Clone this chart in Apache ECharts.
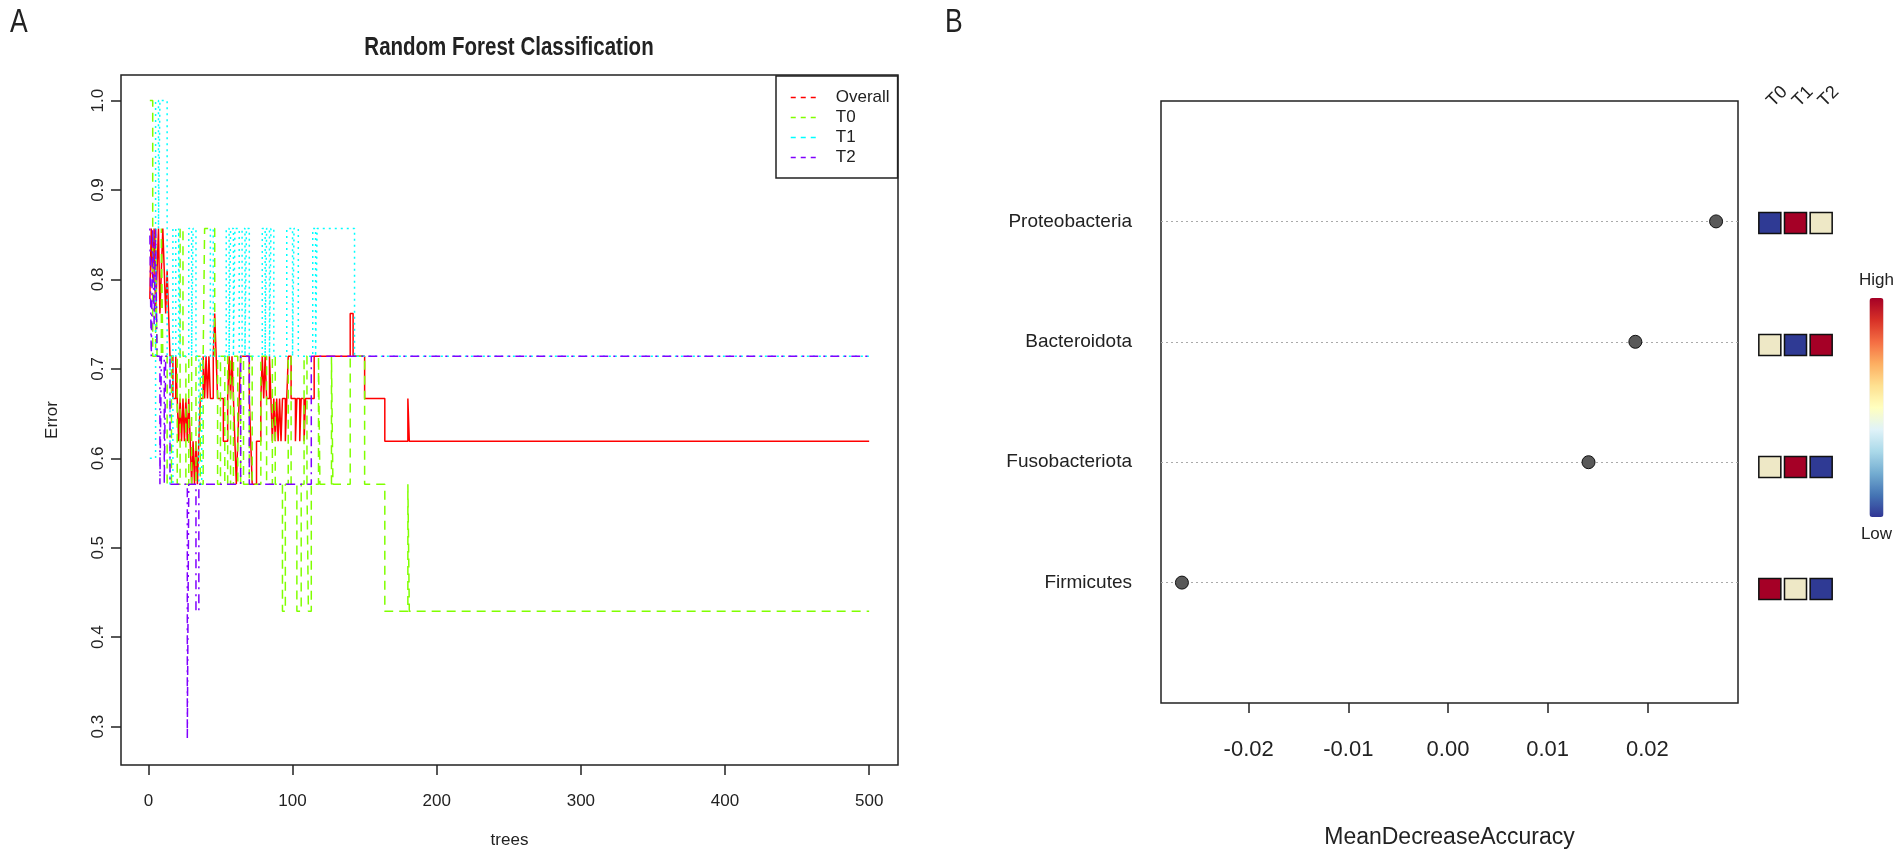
<!DOCTYPE html>
<html><head><meta charset="utf-8">
<script src="https://cdn.jsdelivr.net/npm/echarts@6/dist/echarts.min.js"></script>
<style>html,body{margin:0;padding:0;background:#fff}#c{width:1902px;height:854px}</style>
</head><body><div id="c"></div>
<script>
// ---------- Panel A data: OOB error vs number of trees (change points [tree, error]) ----------
const treeTicks = [0, 100, 200, 300, 400, 500];
const errorTicks = [0.3, 0.4, 0.5, 0.6, 0.7, 0.8, 0.9, 1.0];
const seriesNames = ['Overall', 'T0', 'T1', 'T2'];
const overall = [[1,0.778],[2,0.857],[3,0.8],[4,0.857],[5,0.762],[6,0.81],[7,0.857],[8,0.762],[9,0.81],[10,0.857],[11,0.81],[12,0.762],[13,0.81],[14,0.762],[15,0.714],[17,0.667],[19,0.714],[20,0.667],[21,0.619],[22,0.667],[23,0.619],[24,0.667],[25,0.619],[26,0.667],[27,0.619],[28,0.667],[29,0.619],[30,0.571],[31,0.619],[32,0.571],[33,0.619],[34,0.571],[35,0.619],[36,0.667],[38,0.714],[39,0.667],[40,0.714],[41,0.667],[42,0.714],[43,0.667],[45,0.714],[46,0.762],[47,0.714],[48,0.667],[52,0.619],[55,0.667],[56,0.714],[57,0.667],[58,0.714],[59,0.667],[60,0.619],[61,0.571],[62,0.619],[63,0.667],[64,0.714],[70,0.667],[71,0.619],[72,0.571],[75,0.619],[78,0.667],[79,0.714],[80,0.667],[81,0.714],[82,0.667],[84,0.714],[85,0.667],[86,0.619],[87,0.667],[88,0.619],[89,0.667],[90,0.619],[91,0.667],[92,0.619],[93,0.667],[95,0.619],[96,0.667],[97,0.714],[99,0.667],[102,0.619],[103,0.667],[105,0.619],[106,0.667],[108,0.619],[109,0.667],[115,0.714],[140,0.762],[142,0.714],[150,0.667],[164,0.619],[180,0.667],[181,0.619],[500,0.619]];
const t0 = [[1,1.0],[3,0.714],[5,0.857],[6,0.714],[9,0.857],[10,0.714],[13,0.571],[16,0.714],[20,0.571],[22,0.857],[24,0.714],[26,0.571],[28,0.714],[30,0.571],[33,0.714],[36,0.571],[38,0.714],[39,0.857],[46,0.714],[48,0.571],[50,0.714],[53,0.571],[55,0.714],[57,0.571],[59,0.714],[62,0.571],[64,0.714],[66,0.571],[70,0.714],[72,0.571],[78,0.714],[82,0.571],[86,0.714],[88,0.571],[93,0.429],[95,0.571],[97,0.714],[99,0.571],[103,0.429],[106,0.571],[108,0.714],[110,0.571],[111,0.429],[113,0.571],[118,0.714],[119,0.571],[127,0.714],[128,0.571],[140,0.714],[150,0.571],[164,0.429],[180,0.571],[181,0.429],[500,0.429]];
const t1 = [[1,0.6],[5,1.0],[7,0.857],[8,1.0],[13,0.714],[15,0.571],[17,0.857],[19,0.714],[21,0.857],[22,0.714],[28,0.857],[30,0.714],[31,0.857],[33,0.714],[35,0.571],[37,0.714],[43,0.857],[45,0.714],[54,0.857],[56,0.714],[57,0.857],[59,0.714],[60,0.857],[63,0.714],[65,0.857],[67,0.714],[68,0.857],[70,0.714],[79,0.857],[81,0.714],[82,0.857],[84,0.714],[85,0.857],[87,0.714],[96,0.857],[100,0.714],[101,0.857],[104,0.714],[114,0.857],[116,0.714],[117,0.857],[143,0.714],[500,0.714]];
const t2 = [[1,0.857],[2,0.714],[3,0.857],[4,0.75],[5,0.857],[6,0.714],[8,0.571],[9,0.714],[11,0.571],[12,0.714],[15,0.571],[27,0.286],[28,0.571],[33,0.429],[35,0.571],[64,0.714],[70,0.571],[113,0.714],[500,0.714]];

// ---------- Panel B data ----------
const taxa = ['Firmicutes', 'Fusobacteriota', 'Bacteroidota', 'Proteobacteria'];
const meanDecreaseAccuracy = [-0.0267, 0.0141, 0.0188, 0.0269];
const mdaTicks = [-0.02, -0.01, 0.00, 0.01, 0.02];
const groups = ['T0', 'T1', 'T2'];
// relative abundance level per taxon (rows follow taxa) and group: 1 = low, 2 = mid, 3 = high
const levelRows = [[3,2,1],[2,3,1],[2,1,3],[1,3,2]];

const SANS = "'Liberation Sans',Arial,sans-serif";
const INK = '#222';
const lineColors = ['#FF0000', '#80FF00', '#00FFFF', '#8000FF'];
const dashes = ['solid', [9, 6], [2, 4], [2, 5, 9, 5]];
const lineData = [overall, t0, t1, t2];

const chart = echarts.init(document.getElementById('c'), null, {renderer: 'canvas'});

const lineSeries = seriesNames.map((n, i) => ({
  name: n, type: 'line', xAxisIndex: 0, yAxisIndex: 0, step: 'end',
  symbol: 'none', data: lineData[i], z: 2 + i,
  lineStyle: {color: lineColors[i], width: 1.5, type: dashes[i]},
  itemStyle: {color: lineColors[i]}
}));

const option = {
  animation: false,
  backgroundColor: '#fff',
  graphic: [
    {type: 'text', left: 10, top: 6, scaleX: 0.78, style: {text: 'A', font: '34px ' + SANS, fill: INK}},
    {type: 'text', left: 945, top: 6, scaleX: 0.78, style: {text: 'B', font: '34px ' + SANS, fill: INK}},
    {type: 'text', x: 509, y: 48, scaleX: 0.82,
     style: {text: 'Random Forest Classification', font: 'bold 25px ' + SANS, fill: INK, align: 'center', verticalAlign: 'middle'}}
  ],
  legend: {
    left: 776, top: 76, orient: 'vertical', data: seriesNames, selectedMode: false,
    itemWidth: 30, itemHeight: 14, itemGap: 3,
    borderColor: INK, borderWidth: 1.5, borderRadius: 0, padding: [13, 8, 12, 14],
    textStyle: {fontFamily: SANS, fontSize: 17, color: INK, padding: [0, 0, 0, 10]},
    itemStyle: {opacity: 0},
    lineStyle: {type: [5, 5], width: 1.5}
  },
  grid: [
    {left: 121, top: 75, width: 777, height: 694, show: true, borderColor: INK, borderWidth: 1.5, backgroundColor: 'transparent'},
    {left: 1161, top: 101, width: 577, height: 610, show: true, borderColor: INK, borderWidth: 1.5, backgroundColor: 'transparent'},
    {left: 1757, top: 101, width: 77, height: 610, show: false}
  ],
  xAxis: [
    {type: 'value', gridIndex: 0, min: -19, max: 520,
     axisLine: {show: false, onZero: false}, splitLine: {show: false},
     axisTick: {show: true, customValues: treeTicks, length: 10, lineStyle: {color: INK, width: 1.5}},
     axisLabel: {customValues: treeTicks, fontFamily: SANS, fontSize: 17, color: INK, margin: 28},
     name: 'trees', nameLocation: 'middle', nameGap: 67,
     nameTextStyle: {fontFamily: SANS, fontSize: 17, color: INK}},
    {type: 'value', gridIndex: 1, min: -0.0288, max: 0.0291,
     axisLine: {show: false, onZero: false}, splitLine: {show: false},
     axisTick: {show: true, customValues: mdaTicks, length: 10, lineStyle: {color: INK, width: 1.5}},
     axisLabel: {customValues: mdaTicks, fontFamily: SANS, fontSize: 22, color: INK, margin: 36,
                 formatter: v => v.toFixed(2)},
     name: 'MeanDecreaseAccuracy', nameLocation: 'middle', nameGap: 123,
     nameTextStyle: {fontFamily: SANS, fontSize: 23, color: INK}},
    {type: 'category', gridIndex: 2, data: groups, position: 'top',
     axisLine: {show: false}, axisTick: {show: false}, splitLine: {show: false},
     axisLabel: {interval: 0, rotate: 45, fontFamily: SANS, fontSize: 18, color: INK, margin: -3}}
  ],
  yAxis: [
    {type: 'value', gridIndex: 0, min: 0.2571, max: 1.0286,
     axisLine: {show: false, onZero: false}, splitLine: {show: false},
     axisTick: {show: true, customValues: errorTicks, length: 10, lineStyle: {color: INK, width: 1.5}},
     axisLabel: {customValues: errorTicks, rotate: 90, fontFamily: SANS, fontSize: 17, color: INK, margin: 14,
                 formatter: v => v.toFixed(1)},
     name: 'Error', nameLocation: 'middle', nameGap: 60, nameRotate: 90,
     nameTextStyle: {fontFamily: SANS, fontSize: 17, color: INK}},
    {type: 'value', gridIndex: 1, min: 0, max: 5, interval: 1,
     axisLine: {show: false, onZero: false}, axisTick: {show: false},
     splitLine: {show: true, showMinLine: false, showMaxLine: false, lineStyle: {color: '#aaa', width: 1, type: [2, 3]}},
     axisLabel: {customValues: [1, 2, 3, 4], fontFamily: SANS, fontSize: 19, color: INK, margin: 29,
                 formatter: v => taxa[Math.round(v) - 1]}},
    {type: 'value', gridIndex: 2, min: 0, max: 5, show: false}
  ],
  visualMap: [
    {type: 'piecewise', show: false, seriesIndex: 5, dimension: 2,
     pieces: [{value: 1, color: '#2F3A94'}, {value: 2, color: '#EEE8C6'}, {value: 3, color: '#A50026'}]},
    {type: 'continuous', seriesIndex: 6, min: 0, max: 1, calculable: false,
     left: 1844, top: 257, itemWidth: 14, itemHeight: 219, text: ['High', 'Low'], textGap: 9,
     textStyle: {fontFamily: SANS, fontSize: 17, color: INK},
     inRange: {color: ['#313695','#4575B4','#74ADD1','#ABD9E9','#E0F3F8','#FFFFBF','#FEE090','#FDAE61','#F46D43','#D73027','#A50026']}}
  ],
  series: [
    ...lineSeries,
    {type: 'scatter', xAxisIndex: 1, yAxisIndex: 1, symbolSize: 13,
     data: meanDecreaseAccuracy.map((v, i) => [v, i + 1]),
     itemStyle: {color: '#595959', borderColor: '#111', borderWidth: 1, opacity: 1}},
    {type: 'scatter', xAxisIndex: 2, yAxisIndex: 2, symbol: 'rect', symbolSize: [22, 21],
     data: levelRows.flatMap((row, i) => row.map((lv, j) => [j, i + 1, lv])),
     itemStyle: {borderColor: '#111', borderWidth: 1.5, opacity: 1}},
    {type: 'scatter', xAxisIndex: 2, yAxisIndex: 2, data: []}
  ]
};
chart.setOption(option);
</script>
</body></html>
